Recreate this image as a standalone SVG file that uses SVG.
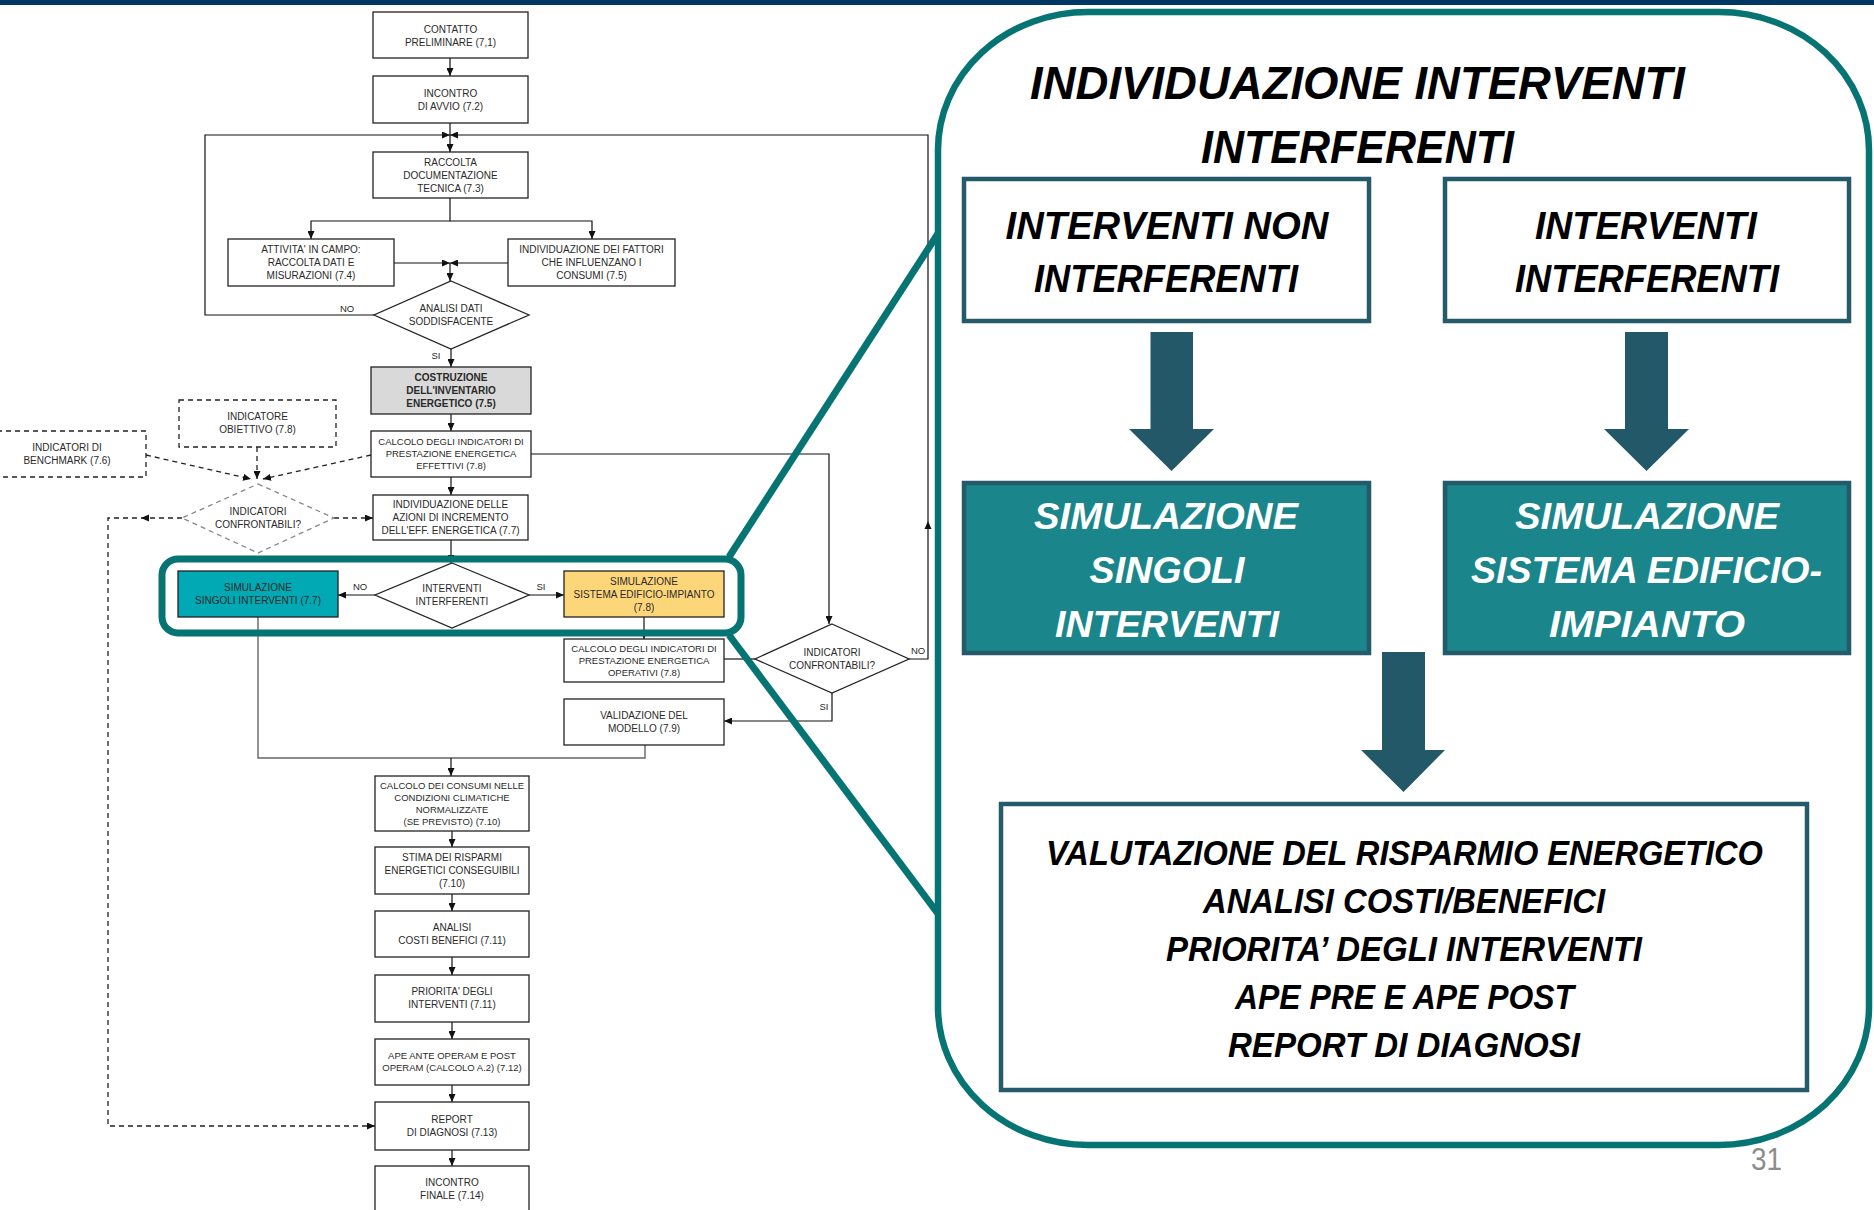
<svg xmlns="http://www.w3.org/2000/svg" width="1874" height="1210" viewBox="0 0 1874 1210">
  <defs>
    <marker id="ah" viewBox="0 0 8 7" refX="8" refY="3.5" markerWidth="8" markerHeight="7" markerUnits="userSpaceOnUse" orient="auto">
      <path d="M0,0 L8,3.5 L0,7 z" fill="#111"/>
    </marker>
    <style>
      .box { fill: #fff; stroke: #222; stroke-width: 1.3; }
      .dbox { fill: #fff; stroke: #222; stroke-width: 1.3; stroke-dasharray: 5 4; }
      .ddia { fill: #fff; stroke: #888; stroke-width: 1.3; stroke-dasharray: 5 4; }
      .ft { font-family: "Liberation Sans", Arial, sans-serif; font-size: 10px; fill: #2a2a2a; text-anchor: middle; }
      .sm { font-size: 9.5px; }
      .b { font-weight: bold; }
      .lbl { font-family: "Liberation Sans", Arial, sans-serif; font-size: 9.5px; fill: #2a2a2a; text-anchor: middle; }
      .ln { fill: none; stroke: #111; stroke-width: 1.2; }
      .gl { fill: none; stroke: #666; stroke-width: 1.4; }
      .dl { fill: none; stroke: #222; stroke-width: 1.3; stroke-dasharray: 5 4; }
      .teal { fill: none; stroke: #057472; stroke-width: 7; }
      .rt { font-family: "Liberation Sans", Arial, sans-serif; font-weight: bold; font-style: italic; text-anchor: middle; fill: #000; }
      .rbox { fill: #fff; stroke: #245a69; stroke-width: 4.5; }
      .tbox { fill: #1a858a; stroke: #245a69; stroke-width: 4.5; }
      .barrow { fill: #235868; }
    </style>
  </defs>

  <rect x="0" y="0" width="1874" height="1210" fill="#fff"/>
  <!-- header band -->
  <rect x="0" y="0" width="1874" height="5" fill="#003865"/>

  <!-- flowchart connectors -->
  <g id="connectors">
    <path class="ln" d="M450,58 V76" marker-end="url(#ah)"/>
    <path class="ln" d="M450,123 V152" marker-end="url(#ah)"/>
    <path class="ln" d="M374,315 H205 V135 H450" marker-end="url(#ah)"/>
    <path class="ln" d="M909,659 H928 V135 H450" marker-end="url(#ah)"/>
    <polygon points="928,521 924.5,529 931.5,529" fill="#111"/>
    <path class="ln" d="M450,198 V221 H311 V239" marker-end="url(#ah)"/>
    <path class="ln" d="M450,221 H592 V239" marker-end="url(#ah)"/>
    <path class="ln" d="M394,263 H450" marker-end="url(#ah)"/>
    <path class="ln" d="M508,263 H450" marker-end="url(#ah)"/>
    <path class="ln" d="M450,263 V281" marker-end="url(#ah)"/>
    <path class="ln" d="M451,349 V367" marker-end="url(#ah)"/>
    <path class="ln" d="M451,414 V431" marker-end="url(#ah)"/>
    <path class="ln" d="M451,477 V495" marker-end="url(#ah)"/>
    <path class="ln" d="M531,454 H829 V624" marker-end="url(#ah)"/>
    <path class="ln" d="M451,540 V563" marker-end="url(#ah)"/>
    <path class="ln" d="M375,595 H338" marker-end="url(#ah)"/>
    <path class="ln" d="M529,595 H564" marker-end="url(#ah)"/>
    <path class="ln" d="M644,617 V639" marker-end="url(#ah)"/>
    <path class="ln" d="M724,659 H755"/>
    <path class="ln" d="M832,693 V721 H724" marker-end="url(#ah)"/>
    <path class="gl" d="M258,617 V758 H645 V745"/>
    <path class="ln" d="M451,758 V776" marker-end="url(#ah)"/>
    <path class="ln" d="M452,831 V847" marker-end="url(#ah)"/>
    <path class="ln" d="M452,894 V911" marker-end="url(#ah)"/>
    <path class="ln" d="M452,957 V975" marker-end="url(#ah)"/>
    <path class="ln" d="M452,1022 V1039" marker-end="url(#ah)"/>
    <path class="ln" d="M452,1085 V1102" marker-end="url(#ah)"/>
    <path class="ln" d="M452,1150 V1166" marker-end="url(#ah)"/>
    <!-- dashed benchmark branch -->
    <path class="dl" d="M257,447 V479" marker-end="url(#ah)"/>
    <path class="dl" d="M146,455 L251,479" marker-end="url(#ah)"/>
    <path class="dl" d="M371,455 L263,479" marker-end="url(#ah)"/>
    <path class="dl" d="M334,518 H373" marker-end="url(#ah)"/>
    <path class="dl" d="M182,518 H108 V1126 H375" marker-end="url(#ah)"/>
    <polygon points="141,518 149,514.5 149,521.5" fill="#111"/>
    <!-- branch labels -->
    <text class="lbl" x="347" y="312">NO</text>
    <text class="lbl" x="436" y="359">SI</text>
    <text class="lbl" x="360" y="590">NO</text>
    <text class="lbl" x="541" y="590">SI</text>
    <text class="lbl" x="918" y="654">NO</text>
    <text class="lbl" x="824" y="710">SI</text>
  </g>

  <!-- flowchart nodes -->
  <g id="n-contatto">
    <rect class="box" x="373" y="12" width="155" height="46"/>
    <text class="ft"><tspan x="450.5" y="33">CONTATTO</tspan><tspan x="450.5" y="46">PRELIMINARE (7,1)</tspan></text>
  </g>
  <g id="n-avvio">
    <rect class="box" x="373" y="76" width="155" height="47"/>
    <text class="ft"><tspan x="450.5" y="97">INCONTRO</tspan><tspan x="450.5" y="110">DI AVVIO (7.2)</tspan></text>
  </g>
  <g id="n-raccolta">
    <rect class="box" x="373" y="152" width="155" height="46"/>
    <text class="ft"><tspan x="450.5" y="166">RACCOLTA</tspan><tspan x="450.5" y="179">DOCUMENTAZIONE</tspan><tspan x="450.5" y="192">TECNICA (7.3)</tspan></text>
  </g>
  <g id="n-attivita">
    <rect class="box" x="228" y="239" width="166" height="47"/>
    <text class="ft"><tspan x="311" y="253">ATTIVITA' IN CAMPO:</tspan><tspan x="311" y="266">RACCOLTA DATI E</tspan><tspan x="311" y="279">MISURAZIONI (7.4)</tspan></text>
  </g>
  <g id="n-fattori">
    <rect class="box" x="508" y="239" width="167" height="47"/>
    <text class="ft"><tspan x="591.5" y="253">INDIVIDUAZIONE DEI FATTORI</tspan><tspan x="591.5" y="266">CHE INFLUENZANO I</tspan><tspan x="591.5" y="279">CONSUMI (7.5)</tspan></text>
  </g>
  <g id="n-analisi-dati">
    <polygon class="box" points="451,281 529,315 451,349 374,315"/>
    <text class="ft"><tspan x="451" y="312">ANALISI DATI</tspan><tspan x="451" y="325">SODDISFACENTE</tspan></text>
  </g>
  <g id="n-inventario">
    <rect class="box" x="371" y="367" width="160" height="47" fill="#d9d9d9" style="fill:#d9d9d9"/>
    <text class="ft b"><tspan x="451" y="381">COSTRUZIONE</tspan><tspan x="451" y="394">DELL'INVENTARIO</tspan><tspan x="451" y="407">ENERGETICO (7.5)</tspan></text>
  </g>
  <g id="n-calcolo-eff">
    <rect class="box" x="371" y="431" width="160" height="46"/>
    <text class="ft sm"><tspan x="451" y="445">CALCOLO DEGLI INDICATORI DI</tspan><tspan x="451" y="457">PRESTAZIONE ENERGETICA</tspan><tspan x="451" y="469">EFFETTIVI (7.8)</tspan></text>
  </g>
  <g id="n-azioni">
    <rect class="box" x="373" y="495" width="155" height="45"/>
    <text class="ft"><tspan x="450.5" y="508">INDIVIDUAZIONE DELLE</tspan><tspan x="450.5" y="521">AZIONI DI INCREMENTO</tspan><tspan x="450.5" y="534">DELL'EFF. ENERGETICA (7.7)</tspan></text>
  </g>
  <g id="n-obiettivo">
    <rect class="dbox" x="179" y="400" width="157" height="47"/>
    <text class="ft"><tspan x="257.5" y="420">INDICATORE</tspan><tspan x="257.5" y="433">OBIETTIVO (7.8)</tspan></text>
  </g>
  <g id="n-benchmark">
    <rect class="dbox" x="-12" y="431" width="158" height="46"/>
    <text class="ft"><tspan x="67" y="451">INDICATORI DI</tspan><tspan x="67" y="464">BENCHMARK (7.6)</tspan></text>
  </g>
  <g id="n-confrontabili-a">
    <polygon class="ddia" points="258,484 334,518 258,553 182,518"/>
    <text class="ft"><tspan x="258" y="515">INDICATORI</tspan><tspan x="258" y="528">CONFRONTABILI?</tspan></text>
  </g>
  <g id="n-singoli">
    <rect class="box" x="178" y="571" width="160" height="46" style="fill:#00a9b4"/>
    <text class="ft"><tspan x="258" y="591">SIMULAZIONE</tspan><tspan x="258" y="604">SINGOLI INTERVENTI (7.7)</tspan></text>
  </g>
  <g id="n-interferenti">
    <polygon class="box" points="452,563 529,595 452,628 375,595"/>
    <text class="ft"><tspan x="452" y="592">INTERVENTI</tspan><tspan x="452" y="605">INTERFERENTI</tspan></text>
  </g>
  <g id="n-sistema">
    <rect class="box" x="564" y="571" width="160" height="46" style="fill:#fdd67a"/>
    <text class="ft"><tspan x="644" y="585">SIMULAZIONE</tspan><tspan x="644" y="598">SISTEMA EDIFICIO-IMPIANTO</tspan><tspan x="644" y="611">(7.8)</tspan></text>
  </g>
  <g id="n-calcolo-op">
    <rect class="box" x="564" y="639" width="160" height="43"/>
    <text class="ft sm"><tspan x="644" y="652">CALCOLO DEGLI INDICATORI DI</tspan><tspan x="644" y="664">PRESTAZIONE ENERGETICA</tspan><tspan x="644" y="676">OPERATIVI (7.8)</tspan></text>
  </g>
  <g id="n-confrontabili-b">
    <polygon class="box" points="832,624 909,659 832,693 755,659"/>
    <text class="ft"><tspan x="832" y="656">INDICATORI</tspan><tspan x="832" y="669">CONFRONTABILI?</tspan></text>
  </g>
  <g id="n-validazione">
    <rect class="box" x="564" y="699" width="160" height="46"/>
    <text class="ft"><tspan x="644" y="719">VALIDAZIONE DEL</tspan><tspan x="644" y="732">MODELLO (7.9)</tspan></text>
  </g>
  <g id="n-consumi">
    <rect class="box" x="375" y="776" width="154" height="55"/>
    <text class="ft sm"><tspan x="452" y="789">CALCOLO DEI CONSUMI NELLE</tspan><tspan x="452" y="801">CONDIZIONI CLIMATICHE</tspan><tspan x="452" y="813">NORMALIZZATE</tspan><tspan x="452" y="825">(SE PREVISTO) (7.10)</tspan></text>
  </g>
  <g id="n-stima">
    <rect class="box" x="375" y="847" width="154" height="47"/>
    <text class="ft"><tspan x="452" y="861">STIMA DEI RISPARMI</tspan><tspan x="452" y="874">ENERGETICI CONSEGUIBILI</tspan><tspan x="452" y="887">(7.10)</tspan></text>
  </g>
  <g id="n-costi">
    <rect class="box" x="375" y="911" width="154" height="46"/>
    <text class="ft"><tspan x="452" y="931">ANALISI</tspan><tspan x="452" y="944">COSTI BENEFICI (7.11)</tspan></text>
  </g>
  <g id="n-priorita">
    <rect class="box" x="375" y="975" width="154" height="47"/>
    <text class="ft"><tspan x="452" y="995">PRIORITA' DEGLI</tspan><tspan x="452" y="1008">INTERVENTI (7.11)</tspan></text>
  </g>
  <g id="n-ape">
    <rect class="box" x="375" y="1039" width="154" height="46"/>
    <text class="ft sm"><tspan x="452" y="1059">APE ANTE OPERAM E POST</tspan><tspan x="452" y="1071">OPERAM (CALCOLO A.2) (7.12)</tspan></text>
  </g>
  <g id="n-report">
    <rect class="box" x="375" y="1102" width="154" height="48"/>
    <text class="ft"><tspan x="452" y="1123">REPORT</tspan><tspan x="452" y="1136">DI DIAGNOSI (7.13)</tspan></text>
  </g>
  <g id="n-finale">
    <rect class="box" x="375" y="1166" width="154" height="52"/>
    <text class="ft"><tspan x="452" y="1186">INCONTRO</tspan><tspan x="452" y="1199">FINALE (7.14)</tspan></text>
  </g>

  <!-- callout: highlighted step and its leader lines -->
  <g id="callout">
    <rect class="teal" x="162" y="559" width="579" height="74" rx="16" ry="16"/>
    <line class="teal" x1="729" y1="557" x2="939" y2="232" stroke-width="6.5"/>
    <line class="teal" x1="729" y1="635" x2="939" y2="915" stroke-width="6.5"/>
  </g>

  <!-- detail panel -->
  <g id="panel">
    <rect x="938" y="12" width="931" height="1133" rx="150" ry="138" fill="#fff" stroke="#057472" stroke-width="6.5"/>
    <text class="rt" font-size="45.5"><tspan x="1357.5" y="99" textLength="655" lengthAdjust="spacingAndGlyphs">INDIVIDUAZIONE INTERVENTI</tspan><tspan x="1357.5" y="163" textLength="313" lengthAdjust="spacingAndGlyphs">INTERFERENTI</tspan></text>
  </g>
  <g id="p-non-interferenti">
    <rect class="rbox" x="964" y="179" width="405" height="142"/>
    <text class="rt" font-size="39"><tspan x="1167" y="239" textLength="323" lengthAdjust="spacingAndGlyphs">INTERVENTI NON</tspan><tspan x="1166" y="292" textLength="264" lengthAdjust="spacingAndGlyphs">INTERFERENTI</tspan></text>
  </g>
  <g id="p-interferenti">
    <rect class="rbox" x="1445" y="179" width="404" height="142"/>
    <text class="rt" font-size="39"><tspan x="1646" y="239" textLength="222" lengthAdjust="spacingAndGlyphs">INTERVENTI</tspan><tspan x="1647" y="292" textLength="264" lengthAdjust="spacingAndGlyphs">INTERFERENTI</tspan></text>
  </g>
  <g id="p-singoli">
    <rect class="tbox" x="964" y="483" width="405" height="170"/>
    <text class="rt" font-size="37" style="fill:#fff"><tspan x="1166" y="529" textLength="264" lengthAdjust="spacingAndGlyphs">SIMULAZIONE</tspan><tspan x="1167" y="583" textLength="155" lengthAdjust="spacingAndGlyphs">SINGOLI</tspan><tspan x="1167" y="637" textLength="224" lengthAdjust="spacingAndGlyphs">INTERVENTI</tspan></text>
  </g>
  <g id="p-sistema">
    <rect class="tbox" x="1445" y="483" width="404" height="170"/>
    <text class="rt" font-size="37" style="fill:#fff"><tspan x="1647" y="529" textLength="264" lengthAdjust="spacingAndGlyphs">SIMULAZIONE</tspan><tspan x="1646.5" y="583" textLength="351" lengthAdjust="spacingAndGlyphs">SISTEMA EDIFICIO-</tspan><tspan x="1647" y="637" textLength="196" lengthAdjust="spacingAndGlyphs">IMPIANTO</tspan></text>
  </g>
  <g id="p-valutazione">
    <rect class="rbox" x="1001" y="804" width="806" height="286"/>
    <text class="rt" font-size="35"><tspan x="1404.5" y="865" textLength="717" lengthAdjust="spacingAndGlyphs">VALUTAZIONE DEL RISPARMIO ENERGETICO</tspan><tspan x="1404" y="913" textLength="402" lengthAdjust="spacingAndGlyphs">ANALISI COSTI/BENEFICI</tspan><tspan x="1404" y="961" textLength="476" lengthAdjust="spacingAndGlyphs">PRIORITA’ DEGLI INTERVENTI</tspan><tspan x="1404.5" y="1009" textLength="339" lengthAdjust="spacingAndGlyphs">APE PRE E APE POST</tspan><tspan x="1404" y="1057" textLength="352" lengthAdjust="spacingAndGlyphs">REPORT DI DIAGNOSI</tspan></text>
  </g>
  <g id="panel-arrows">
    <polygon class="barrow" points="1150.5,332 1193,332 1193,429 1214,429 1171.5,471 1129,429 1150.5,429"/>
    <polygon class="barrow" points="1625,332 1668,332 1668,429 1689,429 1646.5,471 1604,429 1625,429"/>
    <polygon class="barrow" points="1382,652 1425,652 1425,750 1445,750 1403.5,792 1361,750 1382,750"/>
  </g>

  <text x="1766.5" y="1170" font-family="Liberation Sans, Arial, sans-serif" font-size="31" fill="#8c8c8c" text-anchor="middle" textLength="31" lengthAdjust="spacingAndGlyphs">31</text>
</svg>
